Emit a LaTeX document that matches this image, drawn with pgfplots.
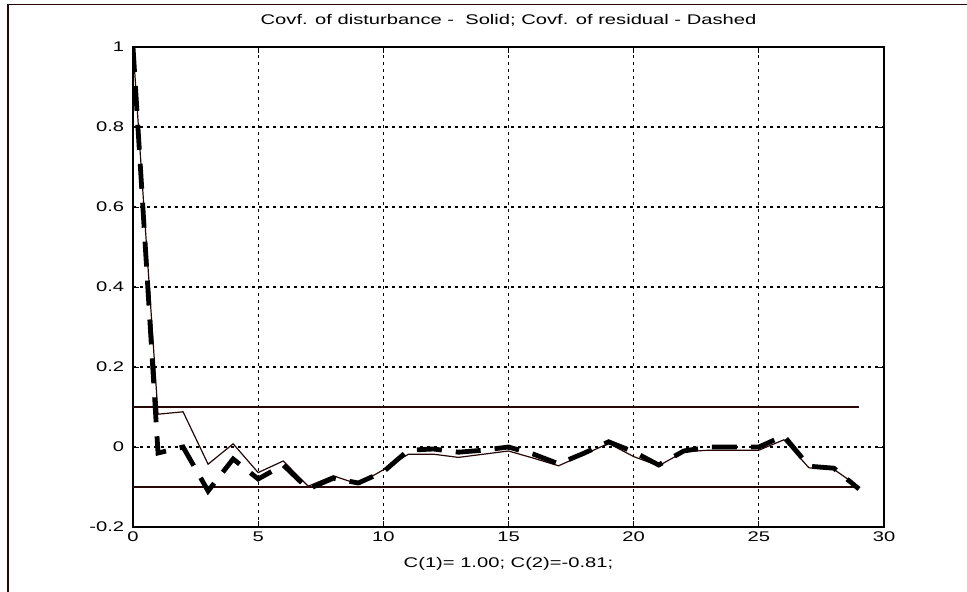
\documentclass[border=0pt]{standalone}
\usepackage{fontspec}
\setmainfont{Liberation Sans}[FakeStretch=1.44]
\usepackage{pgfplots}
\pgfplotsset{compat=1.18}
\definecolor{dbrown}{RGB}{38,6,6}
\newcommand{\lf}{\fontsize{14bp}{16bp}\selectfont}
\begin{document}
\lf
\begin{tikzpicture}
\path[use as bounding box] (0,0) rectangle (967bp,592bp);
\draw[dbrown, line width=1.5bp] (8bp,0) -- (8bp,587.5bp) -- (967bp,587.5bp);
\begin{axis}[
  at={(133bp,65bp)}, anchor=south west, scale only axis,
  width=751bp, height=480bp,
  xmin=0, xmax=30, ymin=-0.2, ymax=1,
  xtick={0,5,10,15,20,25,30}, xticklabels={0,5,10,15,20,25,30},
  ytick={-0.2,0,0.2,0.4,0.6,0.8,1}, yticklabels={-0.2,0,0.2,0.4,0.6,0.8,1},
  tick align=inside, xtick pos=both, ytick pos=both, major tick length=6bp,
  tick style={black, line width=0.8bp},
  axis line style={black, line width=1.4bp},
  grid=major, major grid style={black, line width=1.2bp, dash pattern=on 3bp off 4bp},
  title={Covf. of disturbance -\ \ Solid; Covf. of residual - Dashed},
  title style={at={(0.5,1)}, anchor=base, yshift=17bp, font=\lf},
  xlabel={C(1)= 1.00; C(2)=-0.81;},
  xlabel style={at={(0.5,0)}, anchor=base, yshift=-41bp, font=\lf},
  tick label style={font=\lf},
  yticklabel style={xshift=-4bp},
]
\addplot[dbrown, line width=1.1bp] coordinates {(0,0.1) (29,0.1)};
\addplot[dbrown, line width=1.1bp] coordinates {(0,-0.1) (29,-0.1)};
\addplot[dbrown, line width=1.2bp] coordinates {
(0,1.0) (1,0.082) (2,0.088) (3,-0.043) (4,0.008) (5,-0.064) (6,-0.035) (7,-0.098)
(8,-0.072) (9,-0.093) (10,-0.057) (11,-0.018) (12,-0.018) (13,-0.026) (14,-0.018)
(15,-0.010) (16,-0.028) (17,-0.047) (18,-0.019) (19,0.009) (20,-0.024) (21,-0.047)
(22,-0.012) (23,-0.008) (24,-0.008) (25,-0.008) (26,0.018) (27,-0.052) (28,-0.056) (29,-0.100)};
\addplot[black, line width=4.8bp, dash pattern=on 25bp off 14bp, line join=miter] coordinates {
(0,1.0) (1,-0.015) (2,0.0) (3,-0.11) (4,-0.03) (5,-0.08) (6,-0.045) (7,-0.105)
(8,-0.078) (9,-0.09) (10,-0.062) (11,-0.008) (12,-0.005) (13,-0.013) (14,-0.008)
(15,0.0) (16,-0.018) (17,-0.042) (18,-0.016) (19,0.013) (20,-0.012) (21,-0.045)
(22,-0.010) (23,0.0) (24,0.0) (25,0.0) (26,0.028) (27,-0.048) (28,-0.053) (29,-0.105)};
\end{axis}
\end{tikzpicture}
\end{document}
